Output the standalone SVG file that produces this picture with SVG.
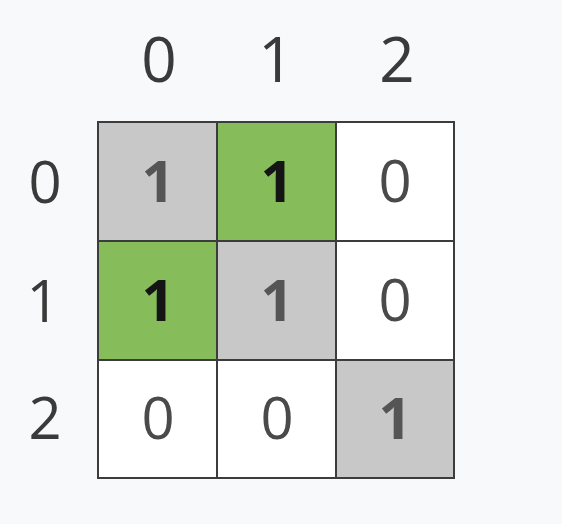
<svg xmlns="http://www.w3.org/2000/svg" width="562" height="524" viewBox="0 0 562 524">
<style>
text{font-family:"Open Sans","Noto Sans","DejaVu Sans",sans-serif;text-anchor:middle}
.lbl{font-size:62px;fill:#3a3a3a}
.rl{font-size:58px;fill:#3a3a3a}
.v{font-size:58px;fill:#4a4a4a}
.g{font-size:58px;fill:#555555;font-weight:700}
.b{font-size:58px;fill:#151515;font-weight:700}
rect.c{stroke:#3c3c3c;stroke-width:2}
.grey{fill:#c8c8c8}.green{fill:#86bd5a}.white{fill:#ffffff}
</style>
<rect width="562" height="524" fill="#f8f9fa"/>
<g id="col-labels">
<text class="lbl" x="159" y="82">0</text>
<text class="lbl" x="276" y="82">1</text>
<text class="lbl" x="397" y="82">2</text>
</g>
<g id="row-labels">
<text class="rl" x="45" y="203">0</text>
<text class="rl" x="43" y="322">1</text>
<text class="rl" x="45" y="439">2</text>
</g>
<g id="cell-0-0"><rect class="c grey" x="98" y="122" width="119" height="119"/><text class="g" x="158" y="202">1</text></g>
<g id="cell-0-1"><rect class="c green" x="217" y="122" width="119" height="119"/><text class="b" x="277" y="202">1</text></g>
<g id="cell-0-2"><rect class="c white" x="336" y="122" width="118" height="119"/><text class="v" x="395" y="202">0</text></g>
<g id="cell-1-0"><rect class="c green" x="98" y="241" width="119" height="119"/><text class="b" x="158" y="321">1</text></g>
<g id="cell-1-1"><rect class="c grey" x="217" y="241" width="119" height="119"/><text class="g" x="277" y="321">1</text></g>
<g id="cell-1-2"><rect class="c white" x="336" y="241" width="118" height="119"/><text class="v" x="395" y="321">0</text></g>
<g id="cell-2-0"><rect class="c white" x="98" y="360" width="119" height="118"/><text class="v" x="158" y="439">0</text></g>
<g id="cell-2-1"><rect class="c white" x="217" y="360" width="119" height="118"/><text class="v" x="277" y="439">0</text></g>
<g id="cell-2-2"><rect class="c grey" x="336" y="360" width="118" height="118"/><text class="g" x="395" y="439">1</text></g>
<g id="connectors"/>
</svg>
